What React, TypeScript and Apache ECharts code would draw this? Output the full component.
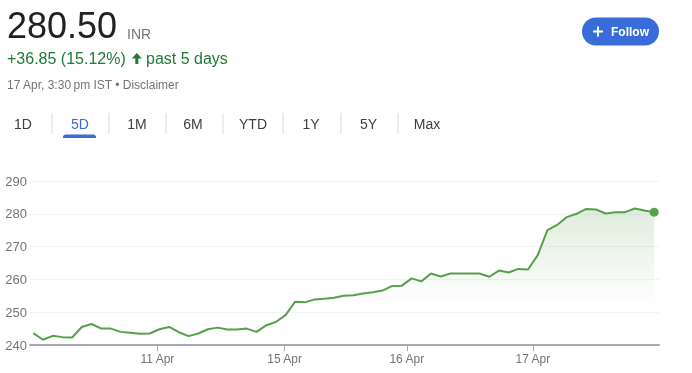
import React, { useEffect, useRef } from "react";
import * as echarts from "echarts";

const prices: number[] = [
  243.6, 241.6, 242.8, 242.4, 242.3, 245.5, 246.4, 245.0, 245.0, 244.0, 243.7, 243.4, 243.5,
  244.8, 245.5, 243.9, 242.7, 243.5, 244.8, 245.3, 244.7, 244.7, 245.0, 244.0, 246.0, 247.0,
  249.1, 253.2, 253.0, 253.9, 254.1, 254.4, 255.0, 255.2, 255.7, 256.1, 256.6, 258.0, 258.1,
  260.3, 259.4, 261.8, 260.9, 261.8, 261.8, 261.8, 261.8, 260.8, 262.7, 262.1, 263.2, 263.0,
  267.4, 275.0, 276.6, 279.0, 280.0, 281.5, 281.3, 280.1, 280.5, 280.5, 281.6, 281.0, 280.5,
];
const dayTickPositions: number[] = [12.8, 25.9, 38.5, 51.5];
const dayTickLabels: string[] = ["11 Apr", "15 Apr", "16 Apr", "17 Apr"];
const yTicks = { min: 240, max: 290, interval: 10 };
const tabLabels: string[] = ["1D", "5D", "1M", "6M", "YTD", "1Y", "5Y", "Max"];
const activeTab = "5D";
const headline = { price: "280.50", currency: "INR", change: "+36.85 (15.12%)", period: "past 5 days", stamp: "17 Apr, 3:30\u2009pm IST \u2022 Disclaimer" };

const FONT = 'Arial, "Liberation Sans", sans-serif';
const GREEN_LINE = "#57a04b";
const GREEN_TEXT = "#1e7a34";
const GRAY = "#70757a";
const BLUE = "#3a6cd9";

export default function App() {
  const ref = useRef<HTMLDivElement>(null);
  useEffect(() => {
    if (!ref.current) return;
    const chart = echarts.init(ref.current, undefined, { renderer: "svg" });
    const lastIdx = prices.length - 1;
    const tabCenters = [23, 80, 137, 193, 253, 311, 368.5, 427];
    const sepXs = [52, 109, 166, 223, 283, 341, 398];
    const graphic: any[] = [
      { type: "text", x: 7, y: 25.5, style: { text: headline.price, font: `36px ${FONT}`, fill: "#202124", textAlign: "left", textVerticalAlign: "middle" } },
      { type: "text", x: 127, y: 33.5, style: { text: headline.currency, font: `14px ${FONT}`, fill: GRAY, textAlign: "left", textVerticalAlign: "middle" } },
      { type: "text", x: 7, y: 58.5, style: { text: headline.change, font: `16px ${FONT}`, fill: GREEN_TEXT, textAlign: "left", textVerticalAlign: "middle" } },
      { type: "polygon", shape: { points: [[136.8, 53], [141.8, 58.6], [138.3, 58.6], [138.3, 64], [135.3, 64], [135.3, 58.6], [131.8, 58.6]] }, style: { fill: GREEN_TEXT } },
      { type: "text", x: 146, y: 58.5, style: { text: headline.period, font: `16px ${FONT}`, fill: GREEN_TEXT, textAlign: "left", textVerticalAlign: "middle" } },
      { type: "text", x: 7, y: 85, style: { text: headline.stamp, font: `12px ${FONT}`, fill: GRAY, textAlign: "left", textVerticalAlign: "middle" } },
      { type: "rect", shape: { x: 582, y: 17.5, width: 77, height: 28, r: 14 }, style: { fill: BLUE } },
      { type: "line", shape: { x1: 593, y1: 31.5, x2: 603, y2: 31.5 }, style: { stroke: "#fff", lineWidth: 2 } },
      { type: "line", shape: { x1: 598, y1: 26.5, x2: 598, y2: 36.5 }, style: { stroke: "#fff", lineWidth: 2 } },
      { type: "text", x: 611, y: 31.5, style: { text: "Follow", font: `bold 12px ${FONT}`, fill: "#fff", textAlign: "left", textVerticalAlign: "middle" } },
      { type: "rect", shape: { x: 63, y: 134.5, width: 33, height: 3.5, r: [3, 3, 0, 0] }, style: { fill: BLUE } },
    ];
    tabLabels.forEach((t, i) => {
      graphic.push({ type: "text", x: tabCenters[i], y: 124, style: { text: t, font: `14px ${FONT}`, fill: t === activeTab ? BLUE : "#3c4043", textAlign: "center", textVerticalAlign: "middle" } });
    });
    sepXs.forEach((x) => {
      graphic.push({ type: "line", shape: { x1: x, y1: 113, x2: x, y2: 134 }, style: { stroke: "#dadce0", lineWidth: 1 } });
    });

    chart.setOption({
      animation: false,
      graphic,
      grid: { left: 30, right: 33, top: 181, bottom: 28 },
      xAxis: {
        type: "value",
        min: -0.34,
        max: 64.5,
        axisLine: { show: true, onZero: false, lineStyle: { color: "#a6a9ad", width: 2 } },
        axisTick: { show: true, customValues: dayTickPositions, length: 6, lineStyle: { color: "#a6a9ad", width: 1 } },
        axisLabel: {
          customValues: dayTickPositions,
          color: GRAY,
          fontSize: 12,
          fontFamily: FONT,
          margin: 8,
          formatter: (v: number) => {
            const i = dayTickPositions.findIndex((p) => Math.abs(p - v) < 1e-6);
            return i >= 0 ? dayTickLabels[i] : "";
          },
        },
        splitLine: { show: false },
      },
      yAxis: {
        type: "value",
        min: yTicks.min,
        max: yTicks.max,
        interval: yTicks.interval,
        axisLine: { show: false },
        axisTick: { show: false },
        axisLabel: { color: GRAY, fontSize: 13, fontFamily: FONT, margin: 3 },
        splitLine: { lineStyle: { color: "#f1f3f4", width: 1 } },
      },
      series: [
        {
          type: "line",
          data: prices.map((v, i) => [i, v]),
          showSymbol: false,
          lineStyle: { color: GREEN_LINE, width: 2 },
          itemStyle: { color: GREEN_LINE },
          areaStyle: {
            origin: "start",
            color: new echarts.graphic.LinearGradient(0, 0, 0, 1, [
              { offset: 0, color: "rgba(87,160,75,0.27)" },
              { offset: 0.72, color: "rgba(87,160,75,0)" },
            ]),
          },
          z: 2,
        },
        {
          type: "scatter",
          data: [[lastIdx, prices[lastIdx]]],
          symbolSize: 9,
          itemStyle: { color: GREEN_LINE, opacity: 1 },
          z: 3,
        },
      ],
    });
    return () => chart.dispose();
  }, []);
  return <div ref={ref} style={{ position: "fixed", left: 0, top: 0, width: 692, height: 373 }} />;
}
